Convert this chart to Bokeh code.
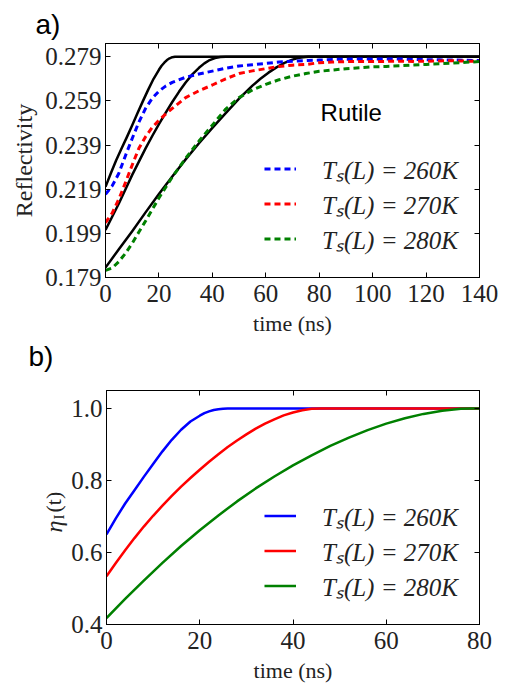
from bokeh.plotting import figure
from bokeh.models import (Legend, LegendItem, Label, LinearAxis, FixedTicker, Range1d, Title)
from bokeh.layouts import column, row
from bokeh.embed import file_html
from bokeh.resources import INLINE
import math

# ---------------- panel a) : reflectivity ----------------
x_ticks_a = [0, 20, 40, 60, 80, 100, 120, 140]
y_ticks_a = [0.179, 0.199, 0.219, 0.239, 0.259, 0.279]
y_labels_a = ["0.179", "0.199", "0.219", "0.239", "0.259", "0.279"]

# model (solid black)
t_mod_260 = [0, 2, 4, 6, 8, 10, 12, 14, 16, 18, 20, 21, 22, 23, 24, 25, 26, 140]
R_mod_260 = [0.2201, 0.2262, 0.2321, 0.2374, 0.2426, 0.2480, 0.2535, 0.2589, 0.2641, 0.2690,
             0.2731, 0.2749, 0.2763, 0.2775, 0.2783, 0.2788, 0.2790, 0.2790]
t_mod_270 = [0, 2.5, 5, 7.5, 10, 12.5, 15, 17.5, 20, 22.5, 25, 27.5, 30, 32.5, 35, 37, 39, 41,
             43, 45, 140]
R_mod_270 = [0.2005, 0.2065, 0.2125, 0.2190, 0.2255, 0.2315, 0.2375, 0.2431, 0.2485, 0.2536,
             0.2585, 0.2631, 0.2673, 0.2710, 0.2740, 0.2760, 0.2775, 0.2784, 0.2789, 0.2790,
             0.2790]
t_mod_280 = [0, 5, 10, 15, 20, 25, 30, 35, 40, 45, 50, 55, 58, 61, 64, 67, 70, 72, 74, 76, 140]
R_mod_280 = [0.1835, 0.1918, 0.2000, 0.2085, 0.2168, 0.2248, 0.2325, 0.2398, 0.2468, 0.2535,
             0.2600, 0.2659, 0.2690, 0.2718, 0.2742, 0.2762, 0.2777, 0.2784, 0.2788, 0.2790,
             0.2790]

# measured (dashed)
t_dat = [0, 2.5, 5, 7.5, 10, 12.5, 15, 17.5, 20, 22.5, 25, 30, 35, 40, 45, 50, 55, 60, 65, 70,
         75, 80, 85, 90, 95, 100, 105, 110, 115, 120, 125, 130, 135, 140]
R_dat_260 = [0.2167, 0.2205, 0.2262, 0.2343, 0.2420, 0.2494, 0.2556, 0.2602, 0.2634, 0.2657,
             0.2674, 0.2697, 0.2712, 0.2725, 0.2738, 0.2748, 0.2754, 0.2760, 0.2766, 0.2770,
             0.2773, 0.2775, 0.2778, 0.2779, 0.2780, 0.2779, 0.2780, 0.2780, 0.2778, 0.2777,
             0.2776, 0.2775, 0.2774, 0.2773]
R_dat_270 = [0.2038, 0.2082, 0.2145, 0.2221, 0.2300, 0.2375, 0.2428, 0.2470, 0.2502, 0.2530,
             0.2556, 0.2605, 0.2636, 0.2662, 0.2690, 0.2714, 0.2726, 0.2736, 0.2746, 0.2752,
             0.2755, 0.2763, 0.2766, 0.2768, 0.2769, 0.2768, 0.2769, 0.2770, 0.2769, 0.2770,
             0.2771, 0.2772, 0.2770, 0.2769]
R_dat_280 = [0.1822, 0.1833, 0.1862, 0.1900, 0.1945, 0.1996, 0.2046, 0.2098, 0.2150, 0.2198,
             0.2245, 0.2330, 0.2408, 0.2480, 0.2553, 0.2605, 0.2640, 0.2665, 0.2686, 0.2702,
             0.2714, 0.2724, 0.2730, 0.2736, 0.2740, 0.2744, 0.2746, 0.2749, 0.2752, 0.2755,
             0.2758, 0.2761, 0.2765, 0.2768]

# ---------------- panel b) : eta_I(t) ----------------
x_ticks_b = [0, 20, 40, 60, 80]
y_ticks_b = [0.4, 0.6, 0.8, 1.0]
y_labels_b = ["0.4", "0.6", "0.8", "1.0"]

t_eta_260 = [0, 2, 4, 6, 8, 10, 12, 14, 16, 18, 20, 21, 22, 23, 24, 25, 26, 28, 80]
eta_260 = [0.650, 0.695, 0.736, 0.773, 0.810, 0.846, 0.881, 0.913, 0.941, 0.964, 0.980, 0.987,
           0.992, 0.996, 0.998, 0.9995, 1.0, 1.0, 1.0]
t_eta_270 = [0, 2, 4, 6, 8, 10, 12, 14, 16, 18, 20, 22, 24, 26, 28, 30, 32, 34, 36, 38, 40,
             42, 44, 46, 80]
eta_270 = [0.534, 0.571, 0.606, 0.640, 0.672, 0.702, 0.730, 0.757, 0.783, 0.807, 0.830, 0.852,
           0.873, 0.893, 0.911, 0.928, 0.944, 0.958, 0.970, 0.981, 0.989, 0.995, 0.999, 1.0, 1.0]
t_eta_280 = [0, 4, 8, 12, 16, 20, 24, 28, 32, 36, 40, 44, 48, 52, 56, 60, 64, 68, 72, 76, 78, 80]
eta_280 = [0.418, 0.471, 0.522, 0.571, 0.618, 0.662, 0.703, 0.742, 0.778, 0.811, 0.842, 0.870,
           0.896, 0.919, 0.940, 0.958, 0.973, 0.985, 0.994, 0.999, 1.0, 1.0]

legend_labels = ["T\u209b(L) = 260K", "T\u209b(L) = 270K", "T\u209b(L) = 280K"]
BLUE, RED, GREEN = "#0000ff", "#ff0000", "#008000"

SERIF = "Liberation Serif"
SANS = "Liberation Sans"
TXT = "#222222"


def style_axes(p, xt, yt, ylabels):
    bottom = p.below[0]
    left = p.left[0]
    bottom.ticker = FixedTicker(ticks=xt)
    left.ticker = FixedTicker(ticks=yt)
    left.major_label_overrides = {v: s for v, s in zip(yt, ylabels)}
    right = LinearAxis(ticker=FixedTicker(ticks=yt),
                       major_label_overrides={v: "" for v in yt})
    top = LinearAxis(ticker=FixedTicker(ticks=xt),
                     major_label_overrides={v: "" for v in xt})
    p.add_layout(right, "right")
    p.add_layout(top, "above")
    for ax in (bottom, left, right, top):
        ax.major_tick_in = 5
        ax.major_tick_out = 0
        ax.minor_tick_in = 0
        ax.minor_tick_out = 0
        ax.axis_line_color = "black"
        ax.major_tick_line_color = "black"
        ax.major_label_text_font = SERIF
        ax.major_label_text_font_size = "25px"
        ax.major_label_text_color = TXT
        ax.axis_label_text_font = SERIF
        ax.axis_label_text_font_size = "22px"
        ax.axis_label_text_font_style = "normal"
        ax.axis_label_text_color = TXT
    for ax in (right, top):
        ax.major_label_standoff = 0
        ax.major_label_text_font_size = "1px"
    bottom.major_label_standoff = 7
    left.major_label_standoff = 4
    p.xgrid.visible = False
    p.ygrid.visible = False
    p.outline_line_color = "black"
    p.outline_line_width = 1
    return bottom, left


def make_legend(items):
    lg = Legend(items=items, location="bottom_right")
    lg.label_text_font = SERIF
    lg.label_text_font_style = "italic"
    lg.label_text_font_size = "25px"
    lg.label_text_color = TXT
    lg.glyph_width = 32
    lg.glyph_height = 35
    lg.label_height = 35
    lg.label_standoff = 26
    lg.spacing = 0
    lg.padding = 8
    lg.margin = 13
    lg.background_fill_alpha = 0
    lg.border_line_alpha = 0
    return lg


def style_tag(t, text, offset, standoff):
    t.text = text
    t.align = "left"
    t.offset = offset
    t.standoff = standoff
    t.text_font = SANS
    t.text_font_style = "normal"
    t.text_font_size = "28px"
    t.text_color = "black"


# ---------- figure a ----------
p1 = figure(width=511, height=372, x_range=Range1d(0, 140), y_range=Range1d(0.179, 0.2850),
            output_backend="svg", toolbar_location=None,
            min_border_left=105, min_border_right=32, min_border_top=43, min_border_bottom=95)
b1, l1 = style_axes(p1, x_ticks_a, y_ticks_a, y_labels_a)
b1.axis_label = "time (ns)"
l1.axis_label = "Reflectivity"
l1.axis_label_text_font_size = "24px"
b1.axis_label_standoff = 6
l1.axis_label_standoff = 5
style_tag(p1.title, "a)", -70, 7)
# panel tag "b)" sits under panel a)'s axis label
tag_b = Title()
style_tag(tag_b, "b)", -77, 0)
p1.add_layout(tag_b, "below")

for tt, rr in [(t_mod_260, R_mod_260), (t_mod_270, R_mod_270), (t_mod_280, R_mod_280)]:
    p1.line(tt, rr, line_color="black", line_width=2.5, line_join="round")

items_a = []
for rr, col, lab in [(R_dat_260, BLUE, legend_labels[0]), (R_dat_270, RED, legend_labels[1]),
                     (R_dat_280, GREEN, legend_labels[2])]:
    r = p1.line(t_dat, rr, line_color=col, line_width=3, line_dash="6 4", line_join="round")
    items_a.append(LegendItem(label=lab, renderers=[r]))
p1.add_layout(make_legend(items_a))

p1.add_layout(Label(x=80.5, y=0.2537, text="Rutile", text_font=SANS, text_font_size="24px",
                    text_baseline="middle", text_color="black"))

# ---------- figure b ----------
p2 = figure(width=443, height=318, x_range=Range1d(0, 80), y_range=Range1d(0.4, 1.05),
            output_backend="svg", toolbar_location=None,
            min_border_left=37, min_border_right=32, min_border_top=18, min_border_bottom=66)
b2, l2 = style_axes(p2, x_ticks_b, y_ticks_b, y_labels_b)
b2.axis_label = "time (ns)"
b2.axis_label_standoff = 6

items_b = []
for tt, ee, col, lab in [(t_eta_260, eta_260, BLUE, legend_labels[0]),
                         (t_eta_270, eta_270, RED, legend_labels[1]),
                         (t_eta_280, eta_280, GREEN, legend_labels[2])]:
    r = p2.line(tt, ee, line_color=col, line_width=2.5, line_join="round")
    items_b.append(LegendItem(label=lab, renderers=[r]))
p2.add_layout(make_legend(items_b))

# side strip: its frame is aligned with p2's frame (page y 390..624);
# coordinates are pixels, y counted upward from the page bottom (690).
pL = figure(width=68, height=318, x_range=Range1d(0, 68), y_range=Range1d(66, 300),
            x_axis_type=None, y_axis_type=None, output_backend="svg", toolbar_location=None,
            min_border=0, min_border_top=18, min_border_bottom=66, outline_line_color=None)
pL.grid.visible = False
half_pi = math.pi / 2
pL.text(x=[53], y=[158], text=["\u03b7"], angle=half_pi, text_font="Liberation Serif",
        text_font_style="italic", text_font_size="24px", text_align="left",
        text_baseline="middle", text_color=TXT)
pL.text(x=[58], y=[171], text=["I"], angle=half_pi, text_font="Liberation Serif",
        text_font_size="15px", text_align="left", text_baseline="middle", text_color=TXT)
pL.text(x=[53], y=[178], text=["(t)"], angle=half_pi, text_font="Liberation Serif",
        text_font_size="22px", text_align="left", text_baseline="middle", text_color=TXT)

layout = column(p1, row(pL, p2, spacing=0), spacing=0)
open("out.html", "w").write(file_html(layout, INLINE))
